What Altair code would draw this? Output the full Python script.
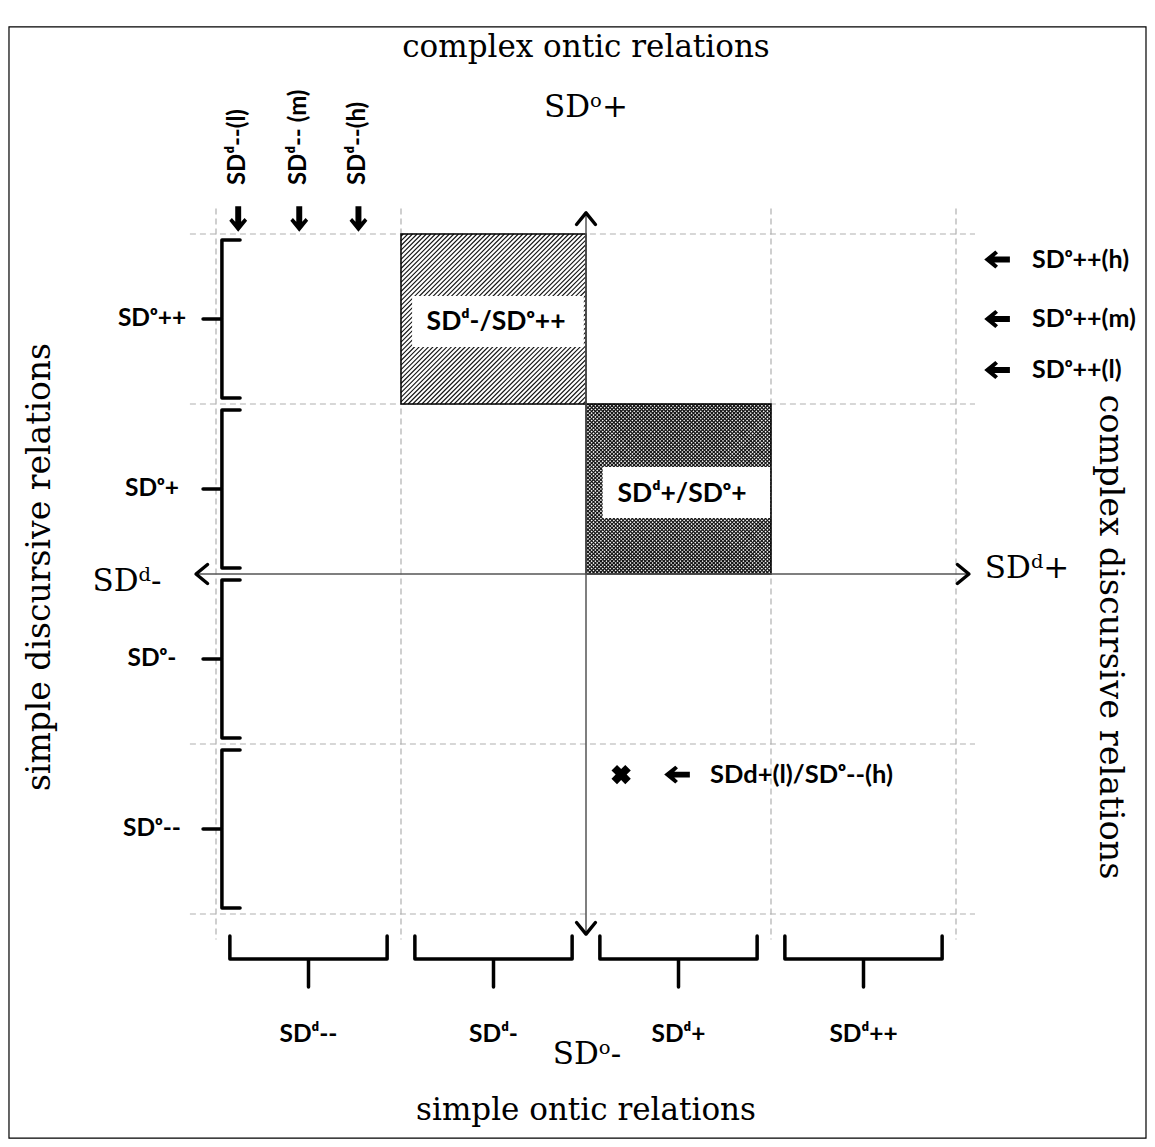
import altair as alt
import pandas as pd

# ---------------- data ----------------
x_bounds = [-2, -1, 0, 1, 2]           # SDd column boundaries
y_bounds = [2, 1, 0, -1, -2]           # SDo row boundaries
col_labels = ["SDᵈ--", "SDᵈ-", "SDᵈ+", "SDᵈ++"]
row_labels = ["SDᵒ++", "SDᵒ+", "SDᵒ-", "SDᵒ--"]
top_marks = ["SDᵈ--(l)", "SDᵈ-- (m)", "SDᵈ--(h)"]
top_marks_x = [-1.88, -1.55, -1.23]
right_marks = ["SDᵒ++(h)", "SDᵒ++(m)", "SDᵒ++(l)"]
right_marks_y = [1.85, 1.50, 1.20]
cell_labels = ["SDᵈ-/SDᵒ++", "SDᵈ+/SDᵒ+"]
cell_x = [(-1, 0), (0, 1)]
cell_y = [(1, 2), (0, 1)]
point_label = ["SDd+(l)/SDᵒ--(h)"]
point_x = [0.19]
point_y = [-1.18]
axis_titles = ["complex ontic relations", "SDᵒ+", "SDᵈ-", "SDᵈ+", "SDᵒ-", "simple ontic relations"]
side_titles = ["simple discursive relations", "complex discursive relations"]

# ---------------- layout ----------------
X0, UX = 586, 185
Y0, UY = 574, 170
W, H = 1139, 1131
XMIN = (8 - X0) / UX
XMAX = XMIN + W / UX
YMAX = (Y0 - 8) / UY
YMIN = YMAX - H / UY

xs = alt.Scale(domain=[XMIN, XMAX], nice=False, zero=False)
ys = alt.Scale(domain=[YMIN, YMAX], nice=False, zero=False)
SERIF = "DejaVu Serif"
SANS = "Lato"


def ex(f="x"):
    return alt.X(f"{f}:Q", scale=xs, axis=None)


def ey(f="y"):
    return alt.Y(f"{f}:Q", scale=ys, axis=None)


def hatch(cx, cy, step, kind, tag):
    """hatch line segments (pattern style) clipped to a cell"""
    L, R = X0 + cx[0] * UX, X0 + cx[1] * UX
    T, B = Y0 - cy[1] * UY, Y0 - cy[0] * UY
    out = []
    k = 0
    if kind == "/":
        c = L + T + step / 2
        while c < R + B:
            pa, pb = max(L, c - B), min(R, c - T)
            out.append({"id": f"{tag}{k}", "x": (pa - X0) / UX, "y": (Y0 - (c - pa)) / UY,
                        "x2": (pb - X0) / UX, "y2": (Y0 - (c - pb)) / UY})
            c += step
            k += 1
    else:
        c = L - B + step / 2
        while c < R - T:
            pa, pb = max(L, c + T), min(R, c + B)
            out.append({"id": f"{tag}{k}", "x": (pa - X0) / UX, "y": (Y0 - (pa - c)) / UY,
                        "x2": (pb - X0) / UX, "y2": (Y0 - (pb - c)) / UY})
            c += step
            k += 1
    return out


layers = []

# frame
frame = pd.DataFrame({"x": [-3.119], "x2": [3.027], "y": [3.218], "y2": [-3.318]})
layers.append(alt.Chart(frame).mark_rect(fill="white", fillOpacity=0, stroke="black", strokeWidth=1.2)
              .encode(x=ex(), x2="x2:Q", y=ey(), y2="y2:Q"))

# dashed grid
g_rows = []
for gx in x_bounds:
    if gx != 0:
        g_rows.append({"x": gx, "x2": gx, "y": 2.15, "y2": -2.15})
for gy in y_bounds:
    if gy != 0:
        g_rows.append({"x": -2.141, "x2": 2.103, "y": gy, "y2": gy})
layers.append(alt.Chart(pd.DataFrame(g_rows)).mark_rule(color="#b0b0b0", strokeWidth=1.2, strokeDash=[6, 4])
              .encode(x=ex(), x2="x2:Q", y=ey(), y2="y2:Q"))

# hatched cells
cells = pd.DataFrame({"x": [cell_x[0][0], cell_x[1][0]], "x2": [cell_x[0][1], cell_x[1][1]],
                      "y": [cell_y[0][0], cell_y[1][0]], "y2": [cell_y[0][1], cell_y[1][1]]})
layers.append(alt.Chart(cells).mark_rect(fill="white").encode(x=ex(), x2="x2:Q", y=ey(), y2="y2:Q"))
hl = hatch(cell_x[0], cell_y[0], 4.6, "/", "a") + hatch(cell_x[1], cell_y[1], 3.7, "/", "b") \
    + hatch(cell_x[1], cell_y[1], 3.7, "\\", "c")
layers.append(alt.Chart(pd.DataFrame(hl)).mark_rule(color="#111111", strokeWidth=1.1)
              .encode(x=ex(), x2="x2:Q", y=ey(), y2="y2:Q"))
layers.append(alt.Chart(cells).mark_rect(fill="white", fillOpacity=0, stroke="black", strokeWidth=1.5)
              .encode(x=ex(), x2="x2:Q", y=ey(), y2="y2:Q"))

# white label boxes in the cells
boxes = pd.DataFrame({"x": [-0.94, 0.09], "x2": [-0.012, 0.995], "y": [1.635, 0.629], "y2": [1.335, 0.329]})
layers.append(alt.Chart(boxes).mark_rect(fill="white").encode(x=ex(), x2="x2:Q", y=ey(), y2="y2:Q"))
cell_txt = pd.DataFrame({"t": cell_labels, "x": [-0.486, 0.519], "y": [1.482, 0.471]})
layers.append(alt.Chart(cell_txt).mark_text(font=SANS, fontWeight="bold", fontSize=26.5, align="center",
                                            baseline="middle", color="black")
              .encode(x=ex(), y=ey(), text="t:N"))

# main axes
ax = pd.DataFrame({"x": [-2.108, 0], "x2": [2.070, 0], "y": [0, 2.124], "y2": [0, -2.118]})
layers.append(alt.Chart(ax).mark_rule(color="#555555", strokeWidth=1.5)
              .encode(x=ex(), x2="x2:Q", y=ey(), y2="y2:Q"))
heads = pd.DataFrame({"x": [-2.108, 2.070, 0, 0], "y": [0, 0, 2.124, -2.118], "a": [0, 180, 90, 270]})
layers.append(alt.Chart(heads).mark_point(shape="M1.1,-0.9L0,0L1.1,0.9", filled=False, size=441,
                                          color="black", strokeWidth=3.4, strokeCap="round",
                                          strokeJoin="round", opacity=1)
              .encode(x=ex(), y=ey(), angle=alt.Angle("a:Q", scale=None)))

# left braces (rows)
SPINE, HOOK, TICK, EPS = -1.968, -1.870, -2.070, 0.035
br = []
for i in range(4):
    top, bot = y_bounds[i] - EPS, y_bounds[i + 1] + EPS
    mid = (y_bounds[i] + y_bounds[i + 1]) / 2
    pts = [(HOOK, top), (SPINE, top), (SPINE, mid), (TICK, mid), (SPINE, mid), (SPINE, bot), (HOOK, bot)]
    for k, (px, py) in enumerate(pts):
        br.append({"id": f"r{i}", "o": k, "x": px, "y": py})
# bottom braces (columns)
BH, BS, BT, INS = -2.13, -2.265, -2.43, 0.075
for i in range(4):
    l, r = x_bounds[i] + INS, x_bounds[i + 1] - INS
    mid = (x_bounds[i] + x_bounds[i + 1]) / 2
    pts = [(l, BH), (l, BS), (mid, BS), (mid, BT), (mid, BS), (r, BS), (r, BH)]
    for k, (px, py) in enumerate(pts):
        br.append({"id": f"c{i}", "o": k, "x": px, "y": py})
layers.append(alt.Chart(pd.DataFrame(br)).mark_line(color="black", strokeWidth=3.5, strokeJoin="round",
                                                    strokeCap="round")
              .encode(x=ex(), y=ey(), detail="id:N", order="o:Q"))

# row / column labels
rows = pd.DataFrame({"t": row_labels, "x": [-2.346] * 4,
                     "y": [(y_bounds[i] + y_bounds[i + 1]) / 2 for i in range(4)]})
layers.append(alt.Chart(rows).mark_text(font=SANS, fontWeight="bold", fontSize=24.5, align="center",
                                        baseline="middle", color="black")
              .encode(x=ex(), y=ey(), text="t:N"))
cols = pd.DataFrame({"t": col_labels, "x": [(x_bounds[i] + x_bounds[i + 1]) / 2 for i in range(4)],
                     "y": [-2.712] * 4})
layers.append(alt.Chart(cols).mark_text(font=SANS, fontWeight="bold", fontSize=24.5, align="center",
                                        baseline="middle", color="black")
              .encode(x=ex(), y=ey(), text="t:N"))

# top markers (rotated) and their arrows
tm = pd.DataFrame({"t": top_marks, "x": top_marks_x, "y": [2.288] * 3})
layers.append(alt.Chart(tm).mark_text(font=SANS, fontWeight="bold", fontSize=24, align="left",
                                      baseline="middle", angle=270, color="black")
              .encode(x=ex(), y=ey(), text="t:N"))
ARROW = "M-0.22,-0.95L0.22,-0.95L0.22,0.2L0.47,-0.07L0.66,0.13L0,0.95L-0.66,0.13L-0.47,-0.07L-0.22,0.2Z"
arr = pd.DataFrame({"x": top_marks_x + [2.222] * 3 + [0.492],
                    "y": [2.088] * 3 + right_marks_y + point_y,
                    "a": [0] * 3 + [90] * 4})
layers.append(alt.Chart(arr).mark_point(shape=ARROW, filled=True, size=729, color="black", opacity=1)
              .encode(x=ex(), y=ey(), angle=alt.Angle("a:Q", scale=None)))

# right markers
rm = pd.DataFrame({"t": right_marks, "x": [2.411] * 3, "y": right_marks_y})
layers.append(alt.Chart(rm).mark_text(font=SANS, fontWeight="bold", fontSize=25, align="left",
                                      baseline="middle", color="black")
              .encode(x=ex(), y=ey(), text="t:N"))

# the X point
pt = pd.DataFrame({"x": point_x, "y": point_y})
layers.append(alt.Chart(pt).mark_point(shape="cross", angle=45, filled=True, size=380, color="black", opacity=1)
              .encode(x=ex(), y=ey()))
ptl = pd.DataFrame({"t": point_label, "x": [0.670], "y": point_y})
layers.append(alt.Chart(ptl).mark_text(font=SANS, fontWeight="bold", fontSize=25.5, align="left",
                                       baseline="middle", color="black")
              .encode(x=ex(), y=ey(), text="t:N"))

# serif axis titles
st = pd.DataFrame({"t": axis_titles,
                   "x": [0, 0, -2.481, 2.384, 0.005, 0],
                   "y": [3.041, 2.688, -0.10, -0.024, -2.882, -3.212]})
layers.append(alt.Chart(st).mark_text(font=SERIF, fontSize=31, align="center", baseline="alphabetic",
                                      color="black")
              .encode(x=ex(), y=ey(), text="t:N"))
sd = pd.DataFrame({"t": side_titles, "x": [-2.951, 2.832], "y": [0.041, -0.37], "a": [270, 90],
                   "s": [33, 33.5]})
layers.append(alt.Chart(sd).mark_text(font=SERIF, align="center", baseline="middle", color="black")
              .encode(x=ex(), y=ey(), text="t:N", angle=alt.Angle("a:Q", scale=None),
                      size=alt.Size("s:Q", scale=None)))

chart = alt.layer(*layers).properties(width=W, height=H, padding=0, autosize="none",
                                      background="white").configure_view(stroke=None)
chart.save("out.html", embed_options={"renderer": "svg", "actions": False})
